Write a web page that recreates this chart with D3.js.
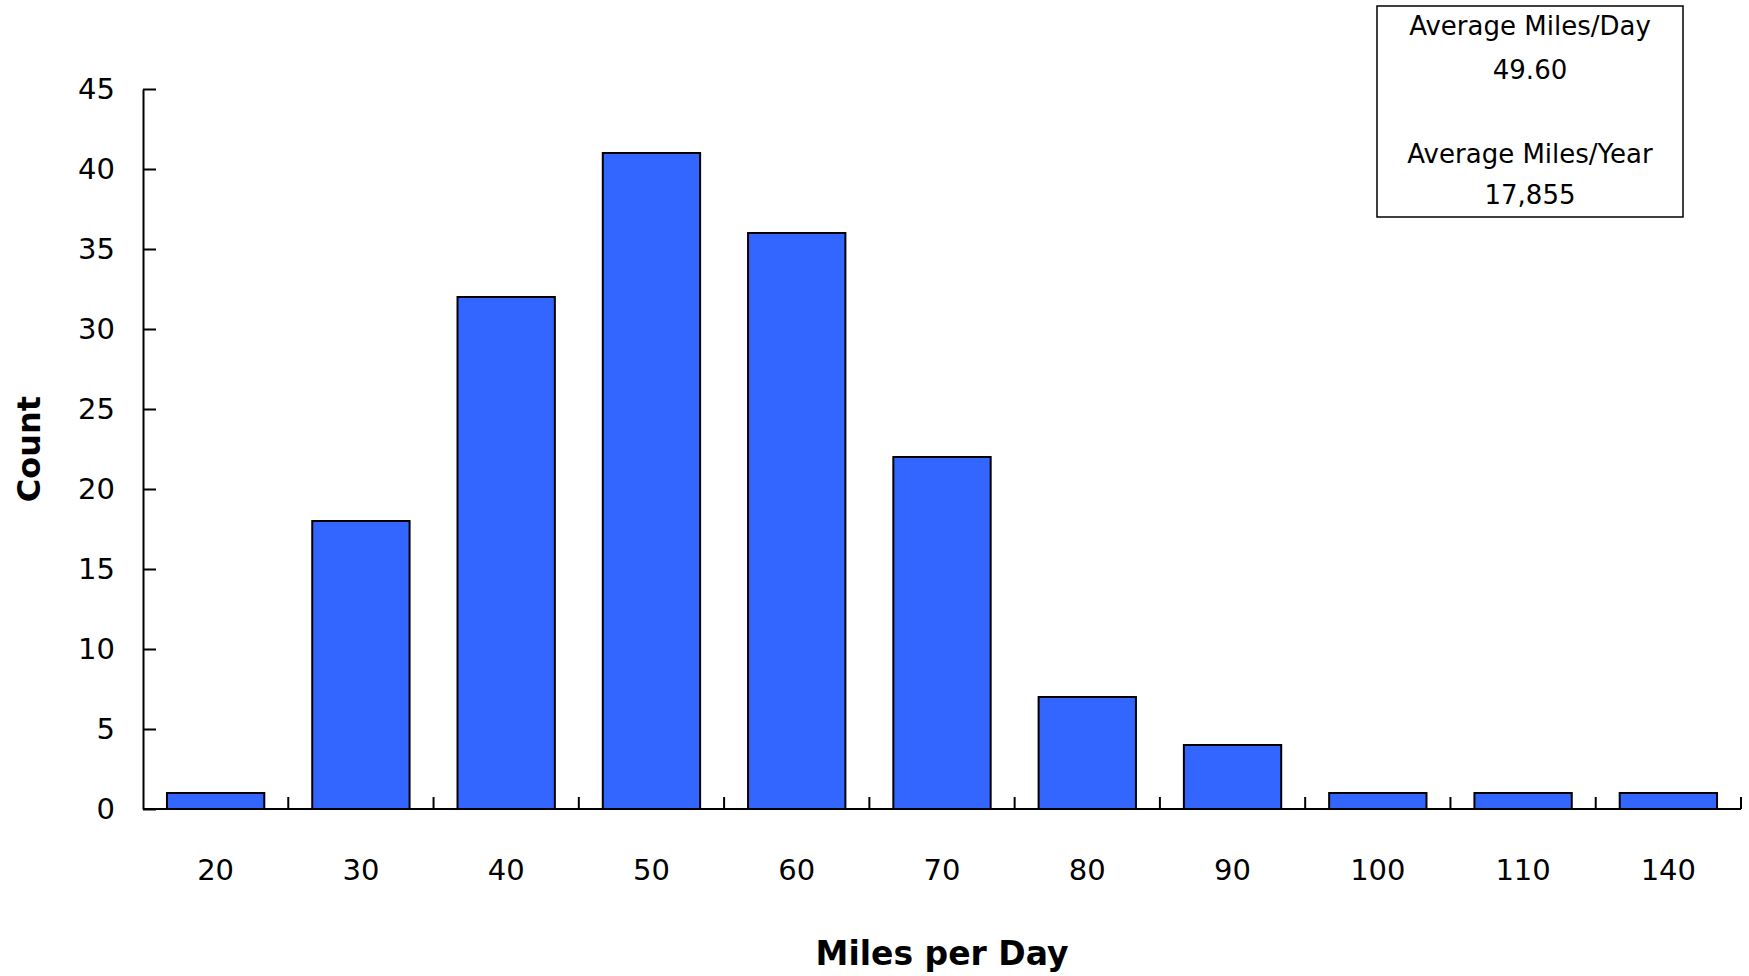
<!DOCTYPE html>
<html>
<head>
<meta charset="utf-8">
<script src="https://cdn.jsdelivr.net/npm/d3@7"></script>
<style>
  body { margin: 0; background: #fff; }
  svg { display: block; }
</style>
</head>
<body>
<script>
const categories = ["20", "30", "40", "50", "60", "70", "80", "90", "100", "110", "140"];
const counts = [1, 18, 32, 41, 36, 22, 7, 4, 1, 1, 1];
const yTicks = [0, 5, 10, 15, 20, 25, 30, 35, 40, 45];
const boxLines = ["Average Miles/Day", "49.60", "", "Average Miles/Year", "17,855"];

const width = 1749, height = 976;
const font = "'Comic Sans MS', 'DejaVu Sans', sans-serif";
const margin = {top: 89, right: 8, bottom: 167, left: 143};

const svg = d3.select("body").append("svg")
    .attr("width", width)
    .attr("height", height)
    .style("font-family", font);

const x = d3.scaleBand()
    .domain(categories)
    .range([margin.left, width - margin.right])
    .paddingInner(0.33)
    .paddingOuter(0.165);

const y = d3.scaleLinear()
    .domain([0, 45])
    .range([height - margin.bottom, margin.top]);

// bars
svg.append("g")
    .selectAll("rect")
    .data(counts)
    .join("rect")
    .attr("x", (d, i) => x(categories[i]))
    .attr("y", d => y(d))
    .attr("width", x.bandwidth())
    .attr("height", d => y(0) - y(d))
    .attr("fill", "#3366ff")
    .attr("stroke", "#000")
    .attr("stroke-width", 2);

// y axis, ticks pointing into the plot
const yAxis = svg.append("g")
    .attr("transform", `translate(${margin.left},0)`)
    .call(d3.axisLeft(y).tickValues(yTicks).tickSizeInner(-13).tickSizeOuter(0).tickPadding(28));
yAxis.select(".domain").attr("stroke-width", 2);
yAxis.selectAll(".tick line").attr("stroke-width", 2);
yAxis.selectAll("text").attr("font-size", 29).attr("font-family", font).attr("fill", "#000");

// x axis baseline + ticks between categories
const bounds = categories.slice(1).map(c => x(c) - x.step() * x.paddingInner() / 2);
bounds.push(width - margin.right);
const xg = svg.append("g");
xg.append("line")
    .attr("x1", margin.left).attr("x2", width - margin.right)
    .attr("y1", y(0)).attr("y2", y(0))
    .attr("stroke", "#000").attr("stroke-width", 2);
xg.selectAll("line.tk")
    .data(bounds)
    .join("line")
    .attr("class", "tk")
    .attr("x1", d => d).attr("x2", d => d)
    .attr("y1", y(0)).attr("y2", y(0) - 12)
    .attr("stroke", "#000").attr("stroke-width", 2);
xg.selectAll("text")
    .data(categories)
    .join("text")
    .attr("x", d => x(d) + x.bandwidth() / 2)
    .attr("y", 880)
    .attr("text-anchor", "middle")
    .attr("font-size", 29)
    .text(d => d);

// axis titles
svg.append("text")
    .attr("x", (margin.left + width - margin.right) / 2)
    .attr("y", 965)
    .attr("text-anchor", "middle")
    .attr("font-size", 33)
    .attr("font-weight", "bold")
    .text("Miles per Day");

svg.append("text")
    .attr("transform", `translate(40,${(y(0) + y(45)) / 2}) rotate(-90)`)
    .attr("text-anchor", "middle")
    .attr("font-size", 32)
    .attr("font-weight", "bold")
    .text("Count");

// stats box
const box = svg.append("g");
box.append("rect")
    .attr("x", 1377).attr("y", 6)
    .attr("width", 306).attr("height", 211)
    .attr("fill", "#fff")
    .attr("stroke", "#000").attr("stroke-width", 1.5);
box.selectAll("text")
    .data(boxLines)
    .join("text")
    .attr("x", 1530)
    .attr("y", (d, i) => [35, 79, 121, 163, 204][i])
    .attr("text-anchor", "middle")
    .attr("font-size", 26)
    .text(d => d);
</script>
</body>
</html>
